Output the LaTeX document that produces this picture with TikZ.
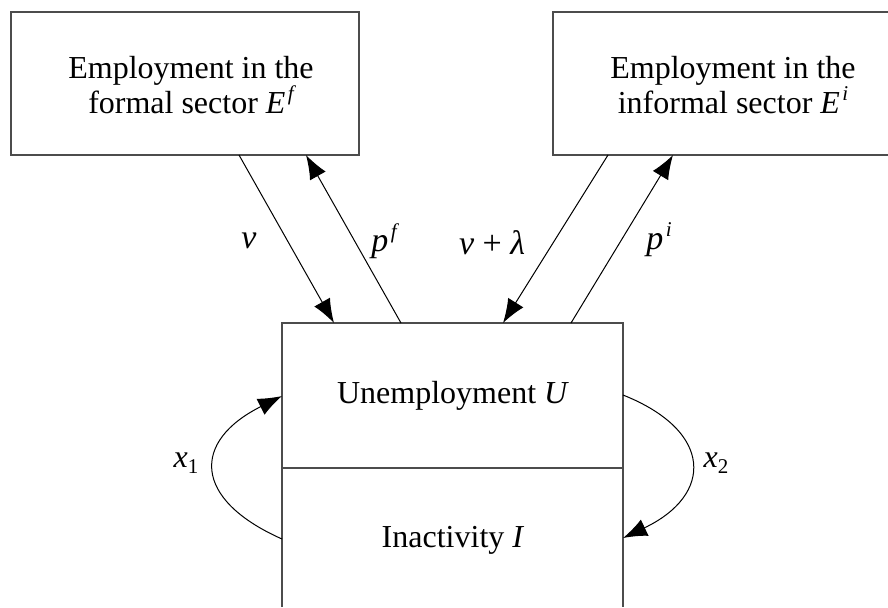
\documentclass[tikz,border=0pt]{standalone}
\usepackage{fontspec}
\setmainfont{Liberation Serif}
\usetikzlibrary{arrows.meta}
% italic superscript with a little gap, as in typeset math
\newcommand\supit[1]{\kern1.2pt\raisebox{0.85ex}{\fontsize{10.5}{10.5}\selectfont\itshape #1}}
\newcommand\subup[1]{\raisebox{-0.45ex}{\fontsize{10.5}{10.5}\selectfont #1}}
\begin{document}
\begin{tikzpicture}[x=0.5pt,y=-0.5pt,
  outline/.style={draw=black!70, line width=0.7pt},
  flow/.style={draw=black, line width=0.5pt, -{Latex[length=12pt,width=9pt]}},
  txt/.style={font=\fontsize{16}{17.5}\selectfont, align=center, inner sep=0pt},
  rate/.style={font=\fontsize{17}{18}\selectfont, inner sep=0pt}]
\useasboundingbox (0,0) rectangle (888,607);

% formal sector box
\draw[outline] (11,12) rectangle (359,155);
\node[txt] (formal) at (191,85) {Employment in the\\formal sector \textit{E}\supit{f}};

% informal sector box (runs off the right side)
\draw[outline] (888,12) -- (553,12) -- (553,155) -- (888,155);
\node[txt] (informal) at (733,85) {Employment in the\\informal sector \textit{E}\supit{i}};

% unemployment / inactivity column (open at the bottom)
\draw[outline] (282,607) -- (282,323) -- (623,323) -- (623,607);
\draw[outline] (282,468) -- (623,468);
\node[txt] (U) at (453,396) {Unemployment \textit{U}};
\node[txt] (I) at (453,540) {Inactivity \textit{I}};

% end points on the box edges
\coordinate (fOut) at (239,155);
\coordinate (fIn)  at (306,155);
\coordinate (iOut) at (608,155);
\coordinate (iIn)  at (673,155);
\coordinate (uInF) at (334,323);
\coordinate (uOutF) at (401,323);
\coordinate (uInI) at (503,323);
\coordinate (uOutI) at (571,323);
\coordinate (uL) at (282,396);
\coordinate (iL) at (282,539);
\coordinate (uR) at (623,395);
\coordinate (iR) at (623,538);

% flows between the sectors
\draw[flow] (fOut) -- (uInF);
\draw[flow] (uOutF) -- (fIn);
\draw[flow] (iOut) -- (uInI);
\draw[flow] (uOutI) -- (iIn);

% flows between unemployment and inactivity
\draw[flow] (iL) .. controls (192,499) and (192,441) .. (uL);
\draw[flow] (uR) .. controls (713.5,431) and (713.5,495) .. (iR);

% rate labels
\node[rate] (nu) at (249,241) {\textit{ν}};
\node[rate] (pf) at (384,241) {\textit{p}\supit{f}};
\node[rate] (nl) at (492,243) {\textit{ν} + \textit{λ}};
\node[rate] (pi) at (659,240) {\textit{p}\supit{i}};
\node[txt] (x1) at (186,463) {\textit{x}\subup{1}};
\node[txt] (x2) at (716,463) {\textit{x}\subup{2}};
\end{tikzpicture}
\end{document}
